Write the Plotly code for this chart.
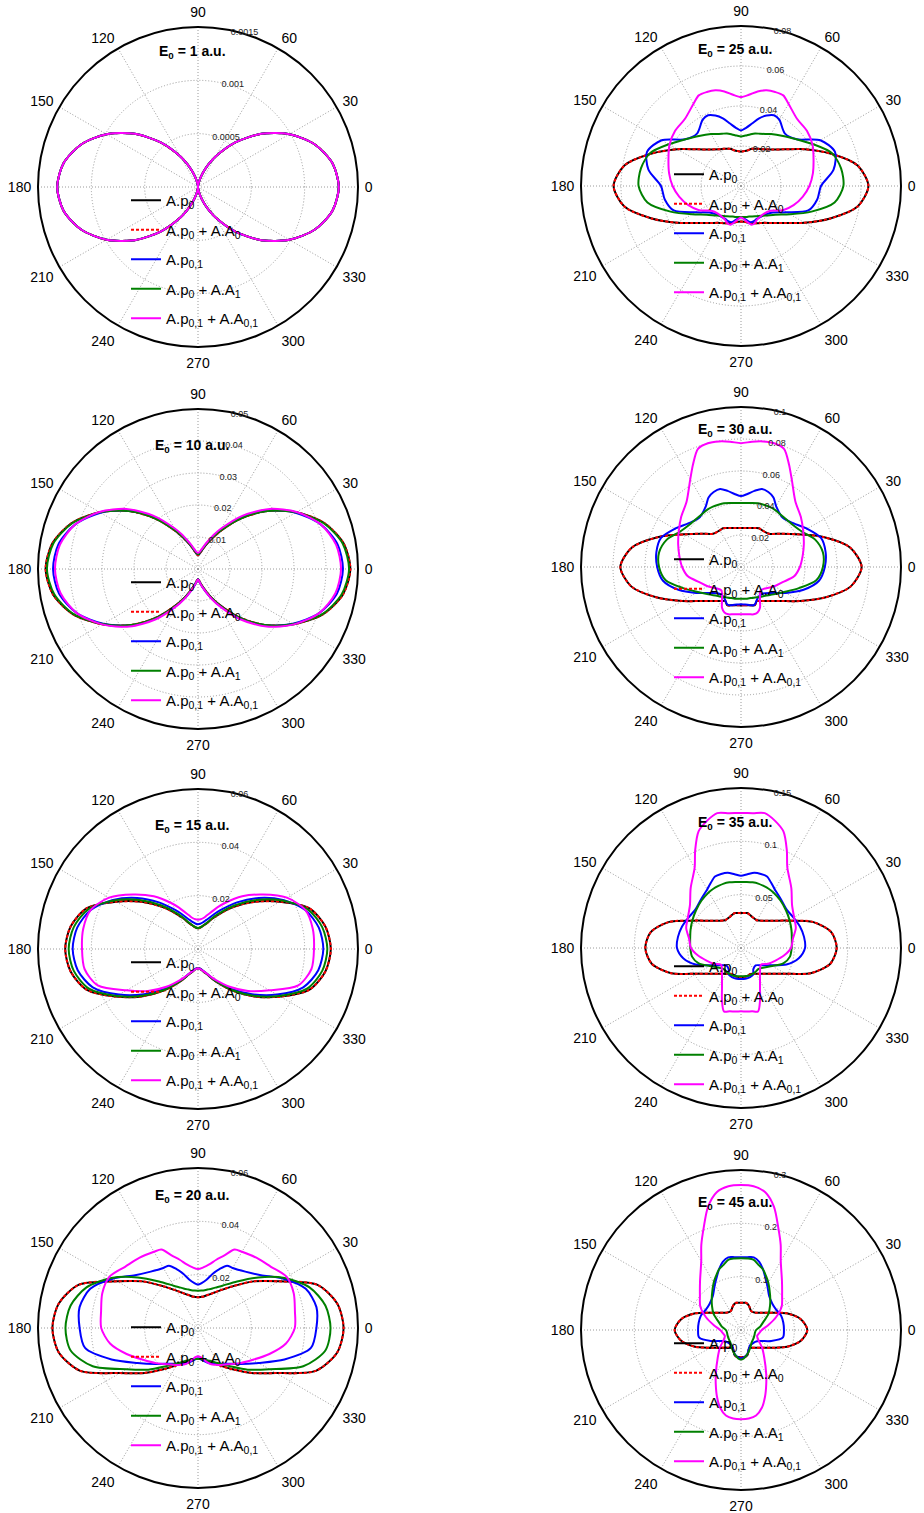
import plotly.graph_objects as go

W, H = 924, 1513

# polar angles (deg) of the right half; left half is the mirror image (180 - angle)
TH_HALF = [-90, -85, -80, -75, -70, -65, -60, -50, -40, -30, -20, -10, 0,
           10, 20, 30, 40, 50, 60, 65, 70, 75, 80, 85, 90]

ANG_TICKS = [0, 30, 60, 90, 120, 150, 180, 210, 240, 270, 300, 330]

SERIES_NAMES = ["A.p<sub>0</sub>",
                "A.p<sub>0</sub> + A.A<sub>0</sub>",
                "A.p<sub>0,1</sub>",
                "A.p<sub>0</sub> + A.A<sub>1</sub>",
                "A.p<sub>0,1</sub> + A.A<sub>0,1</sub>"]

# ---------------- E0 = 1 a.u. ----------------
E1_P0 = [0, 0.00001, 0.00004, 0.000088, 0.000154, 0.000236, 0.00033, 0.000545, 0.000775, 0.00099, 0.001166, 0.00128,
         0.00132, 0.00128, 0.001166, 0.00099, 0.000775, 0.000545, 0.00033, 0.000236, 0.000154, 0.000088, 0.00004, 0.00001, 0]
E1_P0A0 = E1_P0
E1_P01 = E1_P0
E1_P0A1 = E1_P0
E1_P01A01 = E1_P0

# ---------------- E0 = 10 a.u. ----------------
E10_P0 = [0.0032, 0.0036, 0.0045, 0.0058, 0.0075, 0.0098, 0.0125, 0.0195, 0.0272, 0.0345, 0.0415, 0.046,
          0.0476, 0.0462, 0.042, 0.0355, 0.0282, 0.0205, 0.0135, 0.0107, 0.0085, 0.0068, 0.0055, 0.0047, 0.0043]
E10_P0A0 = E10_P0
E10_P01 = [0.0033, 0.0038, 0.0048, 0.0061, 0.0079, 0.0103, 0.013, 0.02, 0.0275, 0.0342, 0.0403, 0.0441,
           0.0453, 0.0443, 0.0408, 0.0352, 0.0285, 0.021, 0.014, 0.0113, 0.0089, 0.0072, 0.0058, 0.005, 0.0046]
E10_P0A1 = [0.0033, 0.0038, 0.0047, 0.006, 0.0077, 0.01, 0.0127, 0.0196, 0.0272, 0.0344, 0.0413, 0.0456,
            0.0472, 0.0459, 0.0418, 0.0354, 0.0282, 0.0206, 0.0137, 0.011, 0.0088, 0.0071, 0.0058, 0.005, 0.0046]
E10_P01A01 = [0.0033, 0.0038, 0.0048, 0.0062, 0.008, 0.0105, 0.0133, 0.0205, 0.028, 0.0346, 0.0403, 0.0436,
              0.0447, 0.0438, 0.0408, 0.0356, 0.0292, 0.0218, 0.0147, 0.0119, 0.0094, 0.0076, 0.0062, 0.0053, 0.005]

# ---------------- E0 = 15 a.u. ----------------
E15_P0 = [0.0072, 0.0074, 0.008, 0.009, 0.0102, 0.0121, 0.0145, 0.0205, 0.0277, 0.0357, 0.0445, 0.0485,
          0.0498, 0.0485, 0.0445, 0.0355, 0.0275, 0.0205, 0.0147, 0.0125, 0.0105, 0.0094, 0.0085, 0.008, 0.0078]
E15_P0A0 = E15_P0
E15_P01 = [0.0071, 0.0073, 0.0078, 0.0087, 0.0099, 0.0118, 0.014, 0.0196, 0.0264, 0.0342, 0.042, 0.0458,
           0.047, 0.046, 0.0428, 0.0368, 0.0298, 0.0228, 0.0168, 0.0145, 0.0125, 0.0111, 0.0101, 0.0095, 0.0093]
E15_P0A1 = [0.0072, 0.0074, 0.008, 0.0089, 0.01, 0.012, 0.0143, 0.0202, 0.0273, 0.0352, 0.0435, 0.0473,
            0.0485, 0.0473, 0.0437, 0.0364, 0.0286, 0.0213, 0.0152, 0.0128, 0.0108, 0.0095, 0.0086, 0.0081, 0.0079]
E15_P01A01 = [0.0072, 0.0075, 0.008, 0.0088, 0.0099, 0.0115, 0.0135, 0.0185, 0.0245, 0.031, 0.04, 0.0432,
              0.0435, 0.0437, 0.0428, 0.0385, 0.0318, 0.0258, 0.0198, 0.0172, 0.0148, 0.0131, 0.0118, 0.0112, 0.011]

# ---------------- E0 = 20 a.u. ----------------
E20_P0 = [0.0116, 0.0117, 0.0121, 0.0127, 0.0135, 0.0147, 0.0162, 0.0202, 0.0262, 0.0338, 0.047, 0.053,
          0.0546, 0.053, 0.0475, 0.035, 0.0272, 0.0205, 0.0162, 0.0147, 0.0135, 0.0127, 0.012, 0.0117, 0.0115]
E20_P0A0 = E20_P0
E20_P01 = [0.0113, 0.0118, 0.0125, 0.0134, 0.0142, 0.0148, 0.0155, 0.0175, 0.021, 0.0262, 0.0345, 0.043,
           0.0444, 0.0451, 0.043, 0.037, 0.0308, 0.0276, 0.026, 0.0258, 0.0235, 0.021, 0.0184, 0.017, 0.0163]
E20_P0A1 = [0.0116, 0.0117, 0.012, 0.0125, 0.0131, 0.0141, 0.0153, 0.0187, 0.0243, 0.031, 0.042, 0.0485,
            0.0497, 0.0485, 0.0445, 0.0375, 0.0295, 0.0228, 0.0183, 0.0169, 0.0158, 0.015, 0.0144, 0.0141, 0.014]
E20_P01A01 = [0.0106, 0.011, 0.012, 0.0133, 0.0145, 0.0152, 0.016, 0.0178, 0.0205, 0.0238, 0.0285, 0.0335,
              0.0363, 0.0369, 0.0382, 0.0384, 0.0357, 0.0343, 0.033, 0.0325, 0.029, 0.0265, 0.0242, 0.0228, 0.0221]

# ---------------- E0 = 25 a.u. ----------------
E25_P0 = [0.0178, 0.018, 0.0185, 0.0193, 0.0198, 0.0205, 0.0213, 0.0241, 0.0287, 0.0368, 0.0475, 0.0592,
          0.0637, 0.0592, 0.0475, 0.0368, 0.0285, 0.0239, 0.0212, 0.0205, 0.0198, 0.0192, 0.018, 0.0175, 0.0172]
E25_P0A0 = E25_P0
E25_P01 = [0.0155, 0.0162, 0.0175, 0.0187, 0.0187, 0.0183, 0.0182, 0.0187, 0.0207, 0.0263, 0.0358, 0.0387,
           0.04, 0.047, 0.05, 0.0458, 0.0363, 0.0342, 0.0383, 0.039, 0.0375, 0.035, 0.0317, 0.0292, 0.0278]
E25_P0A1 = [0.0155, 0.0155, 0.0157, 0.0158, 0.0162, 0.0167, 0.0173, 0.0193, 0.0223, 0.0283, 0.0375, 0.0475,
            0.0512, 0.0508, 0.0483, 0.0417, 0.0363, 0.0327, 0.03, 0.0287, 0.0278, 0.0272, 0.0262, 0.0253, 0.0248]
E25_P01A01 = [0.0158, 0.0167, 0.0183, 0.02, 0.0198, 0.0187, 0.0182, 0.018, 0.0193, 0.0242, 0.028, 0.0313,
              0.0342, 0.0365, 0.0386, 0.0413, 0.043, 0.0437, 0.0475, 0.05, 0.05, 0.0495, 0.048, 0.0458, 0.0445]

# ---------------- E0 = 30 a.u. ----------------
E30_P0 = [0.024, 0.024, 0.0243, 0.0248, 0.0254, 0.0234, 0.0246, 0.0277, 0.0331, 0.0425, 0.0558, 0.0697,
          0.0754, 0.0694, 0.0548, 0.0408, 0.0324, 0.0271, 0.0265, 0.0267, 0.0259, 0.0252, 0.0247, 0.0244, 0.0244]
E30_P0A0 = E30_P0
E30_P01 = [0.0233, 0.0235, 0.0239, 0.0248, 0.025, 0.0231, 0.0216, 0.0216, 0.0252, 0.0324, 0.0416, 0.0495,
           0.0524, 0.0537, 0.0532, 0.0478, 0.0426, 0.0404, 0.0439, 0.048, 0.0499, 0.0505, 0.0483, 0.0458, 0.0443]
E30_P0A1 = [0.0198, 0.0199, 0.0201, 0.0202, 0.0206, 0.021, 0.0218, 0.0235, 0.0266, 0.0312, 0.0385, 0.0478,
            0.0512, 0.052, 0.0495, 0.0441, 0.0416, 0.041, 0.0416, 0.0416, 0.0414, 0.0412, 0.0406, 0.0401, 0.04]
E30_P01A01 = [0.0295, 0.0296, 0.03, 0.0306, 0.0302, 0.0281, 0.0237, 0.0191, 0.0206, 0.0241, 0.0277, 0.0337,
              0.0368, 0.0391, 0.0418, 0.0449, 0.0488, 0.053, 0.0634, 0.0709, 0.0786, 0.0801, 0.0797, 0.0786, 0.0774]

# ---------------- E0 = 35 a.u. ----------------
E35_P0 = [0.0272, 0.0272, 0.0272, 0.0266, 0.0259, 0.0266, 0.0278, 0.0314, 0.0375, 0.0481, 0.0694, 0.085,
          0.0897, 0.0859, 0.0716, 0.0513, 0.0398, 0.0334, 0.03, 0.0303, 0.0309, 0.0322, 0.0333, 0.0329, 0.0328]
E35_P0A0 = E35_P0
E35_P01 = [0.0291, 0.0291, 0.0291, 0.0288, 0.0281, 0.0272, 0.0231, 0.0213, 0.0253, 0.0325, 0.0453, 0.055,
           0.06, 0.06, 0.0588, 0.0569, 0.0559, 0.0588, 0.0634, 0.0672, 0.0713, 0.0719, 0.0716, 0.0694, 0.0678]
E35_P0A1 = [0.0266, 0.0266, 0.0267, 0.0269, 0.0269, 0.0266, 0.0263, 0.0256, 0.0284, 0.0338, 0.0422, 0.0466,
            0.0475, 0.0484, 0.0503, 0.0525, 0.055, 0.0578, 0.0603, 0.0613, 0.0619, 0.0625, 0.0625, 0.0622, 0.0619]
E35_P01A01 = [0.0594, 0.0597, 0.0603, 0.0616, 0.0522, 0.0422, 0.0356, 0.0278, 0.0244, 0.0294, 0.0344, 0.0409,
              0.0469, 0.0494, 0.0547, 0.0575, 0.0625, 0.0734, 0.0869, 0.1016, 0.1163, 0.1234, 0.1284, 0.1269, 0.1266]

# ---------------- E0 = 45 a.u. ----------------
E45_P0 = [0.051, 0.051, 0.0505, 0.048, 0.041, 0.0368, 0.0385, 0.0435, 0.0518, 0.0665, 0.092, 0.1144,
          0.1244, 0.1144, 0.0913, 0.065, 0.0506, 0.0425, 0.04, 0.0419, 0.0463, 0.05, 0.0519, 0.0513, 0.0513]
E45_P0A0 = E45_P0
E45_P01 = [0.0528, 0.0522, 0.0497, 0.0465, 0.0409, 0.0365, 0.0333, 0.0333, 0.0346, 0.0415, 0.0604, 0.0799,
           0.0805, 0.0805, 0.0799, 0.0761, 0.0767, 0.0824, 0.0981, 0.1082, 0.1208, 0.1321, 0.1384, 0.1371, 0.1365]
E45_P0A1 = [0.0553, 0.0541, 0.0503, 0.0465, 0.0428, 0.039, 0.0359, 0.0308, 0.0289, 0.0277, 0.027, 0.0267,
            0.0283, 0.0365, 0.0447, 0.0591, 0.0711, 0.0849, 0.1025, 0.1113, 0.1208, 0.1264, 0.134, 0.1346, 0.1346]
E45_P01A01 = [0.1673, 0.1667, 0.1629, 0.151, 0.1321, 0.112, 0.0944, 0.0679, 0.0516, 0.0377, 0.0321, 0.0346,
              0.039, 0.0516, 0.0698, 0.0881, 0.1006, 0.1195, 0.1491, 0.1761, 0.2044, 0.239, 0.2623, 0.2705, 0.2717]

# radial tick values per panel
E1_RTICKS = [0.0005, 0.001, 0.0015]
E10_RTICKS = [0.01, 0.02, 0.03, 0.04, 0.05]
E15_RTICKS = [0.02, 0.04, 0.06]
E20_RTICKS = [0.02, 0.04, 0.06]
E25_RTICKS = [0.02, 0.04, 0.06, 0.08]
E30_RTICKS = [0.02, 0.04, 0.06, 0.08, 0.1]
E35_RTICKS = [0.05, 0.1, 0.15]
E45_RTICKS = [0.1, 0.2, 0.3]

# ---------------- layout of the 8 panels (pixel centres in the page) ----------------
PANELS = [
    ("1", (198, 187), E1_RTICKS, [E1_P0, E1_P0A0, E1_P01, E1_P0A1, E1_P01A01], 9, -135),
    ("25", (741, 186), E25_RTICKS, [E25_P0, E25_P0A0, E25_P01, E25_P0A1, E25_P01A01], -16, -136),
    ("10", (198, 569), E10_RTICKS, [E10_P0, E10_P0A0, E10_P01, E10_P0A1, E10_P01A01], 9, -123),
    ("30", (741, 567), E30_RTICKS, [E30_P0, E30_P0A0, E30_P01, E30_P0A1, E30_P01A01], -12, -137),
    ("15", (198, 949), E15_RTICKS, [E15_P0, E15_P0A0, E15_P01, E15_P0A1, E15_P01A01], 9, -123),
    ("35", (741, 948), E35_RTICKS, [E35_P0, E35_P0A0, E35_P01, E35_P0A1, E35_P01A01], 14, -125),
    ("20", (198, 1328), E20_RTICKS, [E20_P0, E20_P0A0, E20_P01, E20_P0A1, E20_P01A01], -5, -132),
    ("45", (741, 1330), E45_RTICKS, [E45_P0, E45_P0A0, E45_P01, E45_P0A1, E45_P01A01], 9, -127),
]
RADIUS = 160

STYLES = [dict(color="#000000", width=2, dash="solid"),
          dict(color="#ff0000", width=2, dash="3px,2px"),
          dict(color="#0000ff", width=2, dash="solid"),
          dict(color="#008000", width=2, dash="solid"),
          dict(color="#ff00ff", width=2, dash="solid")]

FONT = "Liberation Sans, Arial, Helvetica, sans-serif"
GRID = dict(gridcolor="#9a9a9a", griddash="1px,2px", gridwidth=1)


def closed(vals):
    th = TH_HALF + [180 - t for t in TH_HALF[::-1][1:]]
    rr = list(vals) + list(vals[::-1][1:])
    return th, rr


fig = go.Figure()
layout = dict(width=W, height=H, margin=dict(l=0, r=0, t=0, b=0, pad=0), autosize=False,
              paper_bgcolor="white", plot_bgcolor="white", showlegend=True,
              font=dict(family=FONT, color="black"))
annotations = []

for k, (lab, (cx, cy), rticks, series, leg_off, title_off) in enumerate(PANELS):
    sp = "polar" if k == 0 else f"polar{k+1}"
    lg = "legend" if k == 0 else f"legend{k+1}"
    for i, vals in enumerate(series):
        th, rr = closed(vals)
        fig.add_trace(go.Scatterpolar(
            r=rr, theta=th, mode="lines", name=SERIES_NAMES[i],
            line=dict(color=STYLES[i]["color"], width=STYLES[i]["width"], dash=STYLES[i]["dash"],
                      shape="spline", smoothing=0.8),
            subplot=sp, legend=lg, legendgroup=f"g{k}_{i}", hoverinfo="skip"))
    rmax = rticks[-1]
    layout[sp] = dict(
        domain=dict(x=[(cx - RADIUS) / W, (cx + RADIUS) / W],
                    y=[1 - (cy + RADIUS) / H, 1 - (cy - RADIUS) / H]),
        bgcolor="white",
        radialaxis=dict(range=[0, rmax], tickmode="array", tickvals=rticks,
                        ticktext=[f"{v:g}" for v in rticks], showline=False, ticks="",
                        angle=80, side="clockwise", tickangle=80,
                        tickfont=dict(size=9, color="#222222", family=FONT), **GRID),
        angularaxis=dict(tickmode="array", tickvals=ANG_TICKS, ticktext=[str(a) for a in ANG_TICKS],
                         rotation=0, direction="counterclockwise", showline=True,
                         linecolor="black", linewidth=2, ticks="outside", ticklen=3,
                         tickcolor="rgba(0,0,0,0)",
                         tickfont=dict(size=14, color="black", family=FONT), **GRID),
    )
    layout[lg] = dict(x=(cx - 72) / W, y=1 - (cy + leg_off - 12) / H, xanchor="left", yanchor="top",
                      bgcolor="rgba(0,0,0,0)", borderwidth=0, font=dict(size=15, family=FONT),
                      traceorder="grouped", tracegroupgap=7, itemwidth=30)
    annotations.append(dict(x=(cx - 6) / W, y=1 - (cy + title_off) / H, xref="paper", yref="paper",
                            text=f"<b>E<sub>0</sub> = {lab} a.u.</b>", showarrow=False,
                            font=dict(size=14, family=FONT, color="black"),
                            xanchor="center", yanchor="middle"))

layout["annotations"] = annotations
fig.update_layout(**layout)
# remove the browser's default 8 px body margin so the figure fills the window exactly
fig.write_html("out.html", config={"displayModeBar": False},
               post_script="document.body.style.margin='0';document.body.style.overflow='hidden';")
